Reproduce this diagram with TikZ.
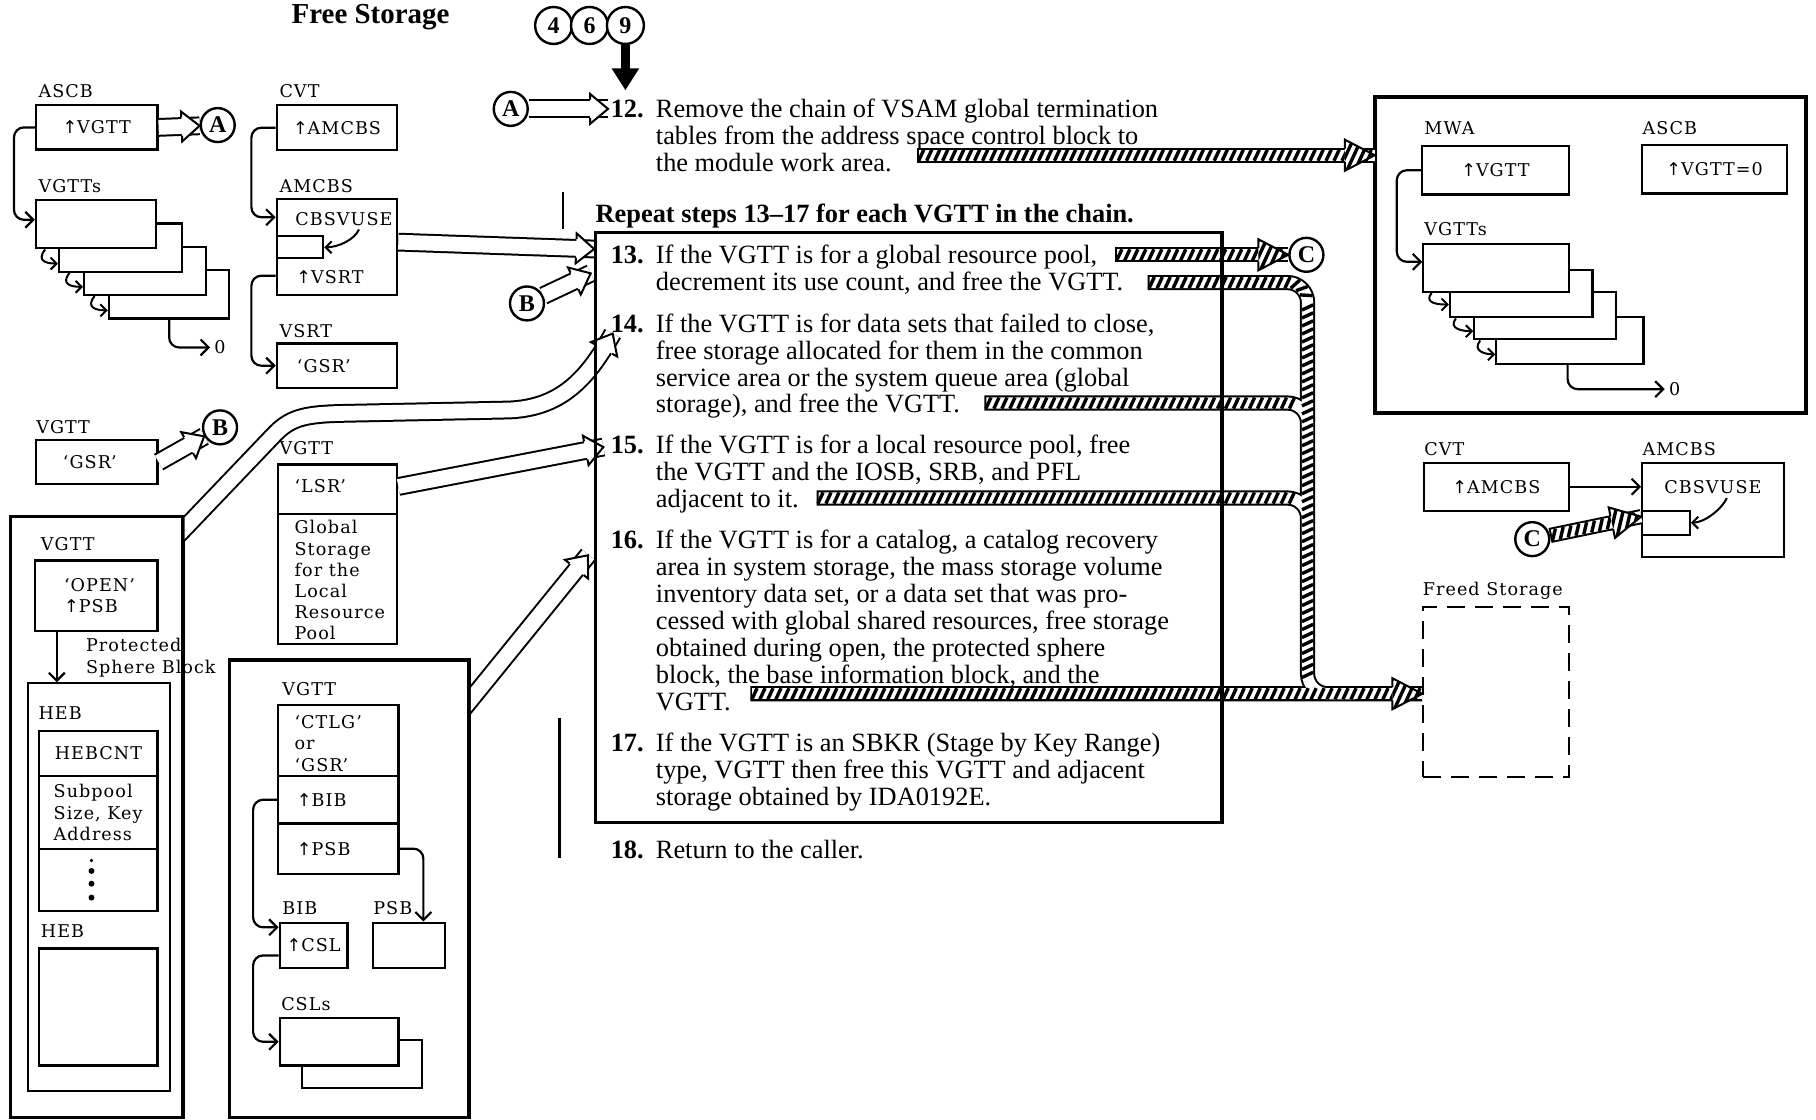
\documentclass[tikz,border=0pt]{standalone}
\usepackage{fontspec}
\setmainfont{Liberation Serif}
\newfontfamily\lblfont[LetterSpace=6]{DejaVu Serif}
\newfontfamily\arrfont{DejaVu Sans}
\usetikzlibrary{arrows.meta,positioning,calc,fit,decorations.markings}

\newcommand{\ptrup}{{\arrfont ↑}}
% heads drawn in the local frame of the path end
\newcommand{\hollowhead}{%
  \fill[white] (-9pt,7.5pt) -- (0pt,0pt) -- (-9pt,-7.5pt) -- cycle;
  \draw[line width=1pt, line join=miter] (-9pt,4.6pt) -- (-9pt,7.5pt) -- (0pt,0pt) -- (-9pt,-7.5pt) -- (-9pt,-4.6pt);}
\newcommand{\hatchhead}{%
  \fill[white] (-15pt,7.8pt) -- (0pt,0pt) -- (-15pt,-7.8pt) -- cycle;
  \begin{scope}
    \clip (-15pt,7.8pt) -- (0pt,0pt) -- (-15pt,-7.8pt) -- cycle;
    \foreach \k in {0,...,7}
      \draw[line width=1.7pt] (-22pt+\k*4pt,-7.8pt) -- ++(7.2pt,15.6pt);
  \end{scope}
  \draw[line width=1pt, line join=miter] (-15pt,3.3pt) -- (-15pt,7.8pt) -- (0pt,0pt) -- (-15pt,-7.8pt) -- (-15pt,-3.3pt);}
\newcommand{\hollow}[1]{%
  \draw[hollowline] #1;
  \path[decorate, decoration={markings, mark=at position 1 with {\hollowhead}}] #1;}
\newcommand{\hatcharrow}[2]{%
  \draw[hatchout] #1;
  \draw[hatchin] #1;
  \path[stripes=#2] #1;
  \path[decorate, decoration={markings, mark=at position 1 with {\hatchhead}}] #1;}

\begin{document}
\begin{tikzpicture}[
  x=0.58pt, y=-0.58pt,
  box/.style={draw, line width=1.1pt, inner sep=0pt, fill=white},
  frame/.style={draw, line width=1.7pt, inner sep=0pt},
  lbl/.style={inner sep=0pt, align=left, font=\lblfont\fontsize{8.8}{10.6}\selectfont},
  circ/.style={draw, circle, line width=1.2pt, fill=white, inner sep=0pt, minimum size=17pt, font=\bfseries\fontsize{12}{12}\selectfont},
  ptr/.style={line width=1.1pt, rounded corners=5pt, -{Straight Barb[length=4pt, width=8pt, line width=1.1pt]}},
  hook/.style={line width=1pt, -{Straight Barb[length=3pt, width=6pt, line width=1pt]}},
  steptext/.style={inner sep=0pt, anchor=north west, align=left, font=\fontsize{13.2}{13.46}\selectfont},
  stepnum/.style={steptext, font=\bfseries\fontsize{13.2}{13.46}\selectfont},
  hollowline/.style={double, double distance=7.4pt, line width=1pt},
  hatchout/.style={line width=7.6pt, rounded corners=10pt},
  hatchin/.style={white, line width=5.6pt, rounded corners=10pt, shorten <=1pt},
  stripes/.style={decorate, decoration={markings, mark=between positions 2pt and -2pt step 4pt with {\draw[line width=1.7pt] (-1*#1,-2.8pt) -- (#1,2.8pt);}}},
  stripes/.default=1.3pt
]
\useasboundingbox (0,0) rectangle (1568,967);

% title and entry
\node[font=\bfseries\fontsize{14.5}{14.5}\selectfont, inner sep=0pt] (title) at (320,15) {Free Storage};
\node[circ, minimum size=18.5pt] (c4) at (478,22) {4};
\node[circ, minimum size=18.5pt] (c6) at (509,22) {6};
\node[circ, minimum size=18.5pt] (c9) at (540,22) {9};
\coordinate (in12) at (540,78);
\draw[line width=4.6pt, -{Triangle[length=11pt, width=13pt]}] (c9) -- (in12);

% ASCB and VGTT chain
\node[lbl, anchor=west] (lascb) at (33,79) {ASCB};
\node[box, fit={(31,91) (136,129)}] (ascb) {};
\node[lbl] (ascbt) at (ascb) {\ptrup VGTT};
\node[circ] (A1) at (188,108) {A};
\hollow{(ascb.east) -- (A1)}
\node[lbl, anchor=west] (lvgtts) at (33,161) {VGTTs};
\node[box, fit={(94,233) (198,275)}] (v4) {};
\node[box, fit={(72.6,213) (178,254.7)}] (v3) {};
\node[box, fit={(51,193) (157,234.6)}] (v2) {};
\node[box, fit={(31,172.7) (135,214.4)}] (v1) {};
\draw[ptr] (ascb.west) -- ++(-18,0) |- ($(v1.north west)+(0,18)$);
\draw[hook] ($(v1.south west)+(9,0)$) .. controls +(-8,10) and +(-10,0) .. ($(v2.south west)+(0,-8)$);
\draw[hook] ($(v2.south west)+(10,0)$) .. controls +(-8,10) and +(-10,0) .. ($(v3.south west)+(0,-8)$);
\draw[hook] ($(v3.south west)+(10,0)$) .. controls +(-8,10) and +(-10,0) .. ($(v4.south west)+(0,-8)$);
\node[lbl, inner sep=2pt] (z1) at (190,300) {0};
\draw[ptr] ($(v4.south west)+(53,0)$) |- (z1);

% CVT, AMCBS, VSRT
\node[lbl, anchor=west] (lcvt) at (241,79) {CVT};
\node[box, fit={(239,91) (343,129.5)}] (cvt) {};
\node[lbl] (cvtt) at (cvt) {\ptrup AMCBS};
\node[lbl, anchor=west] (lamc) at (241,161) {AMCBS};
\node[box, fit={(239,172) (343,255)}] (amc) {};
\node[lbl] (cbsv) at (297,189) {CBSVUSE};
\node[box, fit={(239,204) (279,223)}] (cbs) {};
\node[lbl] (vsrtp) at (285,239) {\ptrup VSRT};
\draw[hook] ($(cbsv.south)+(13,3)$) .. controls +(-4,9) and +(12,0) .. (cbs.east);
\node[lbl, anchor=west] (lvsrt) at (241,286) {VSRT};
\node[box, fit={(239,296.5) (343,335)}] (vsrt) {};
\node[lbl, anchor=west] (vsrtt) at (256,316) {‘GSR’};
\draw[ptr] (cvt.west) -- ++(-21,0) |- ($(amc.north west)+(0,16.5)$);
\draw[ptr] ($(amc.north west)+(0,67)$) -- ++(-21,0) |- (vsrt.west);
\coordinate (in13a) at (513,215);
\hollow{($(amc.north east)+(0,38)$) -- (in13a)}

% B connectors
\node[circ] (B1) at (455,262) {B};
\coordinate (in13b) at (510,236);
\hollow{(B1) -- (in13b)}
\node[lbl, anchor=west] (lvgttb) at (31,369) {VGTT};
\node[box, fit={(31,380) (136,418)}] (gsr) {};
\node[lbl, anchor=west] (gsrt) at (54,399) {‘GSR’};
\node[circ] (B2) at (190,369) {B};
\hollow{(gsr.east) -- (B2)}
\node[circ] (A2) at (441,94) {A};
\coordinate (in12a) at (525,94);
\hollow{(A2) -- (in12a)}

% OPEN VGTT with its HEBs
\node[frame, fit={(9,446) (158,965)}] (opbox) {};
\node[lbl, anchor=west] (lvgtto) at (35,470) {VGTT};
\node[box, fit={(30,484) (136,545)}] (open) {};
\node[lbl, anchor=west] (opent) at (55,514) {‘OPEN’\\\ptrup PSB};
\node[lbl, anchor=north west] (lpsb) at (74,551) {Protected\\Sphere Block};
\node[box, fit={(24,590) (147,942)}] (hebo) {};
\draw[ptr] ($(open.south west)+(20,0)$) -- ($(hebo.north west)+(26,0)$);
\node[lbl, anchor=west] (lheb1) at (33,616) {HEB};
\node[box, fit={(34,631) (136,670)}] (hebcnt) {};
\node[lbl] (hebcntt) at (hebcnt) {HEBCNT};
\node[box, fit={(34,670) (136,733)}] (subp) {};
\node[lbl, anchor=west] (subpt) at (46,701.5) {Subpool\\Size, Key\\Address};
\node[box, fit={(34,733) (136,786.5)}] (dots) {};
\fill (79,743) circle (0.9pt);
\foreach \d in {752,763,775} \fill (79,\d) circle (1.5pt);
\node[lbl, anchor=west] (lheb2) at (35,804) {HEB};
\node[box, fit={(34,819) (136,920)}] (heb2) {};
\begin{scope}
  \clip (159.5,0) rectangle (1568,967);
  \coordinate (o14) at (150,466);
  \coordinate (in14) at (529,288);
  \hollow{(o14) -- (236,376) .. controls (250,361) and (262,358) .. (292,357) -- (440,354) .. controls (482,352) and (506,330) .. (in14)}
\end{scope}

% LSR VGTT
\node[lbl, anchor=west] (lvgttl) at (241,387) {VGTT};
\node[box, fit={(240,401) (343,444)}] (lsr) {};
\node[lbl, anchor=west] (lsrn) at (254,420) {‘LSR’};
\node[box, fit={(240,444) (343,556)}] (lsrp) {};
\node[lbl, anchor=west] (lsrt) at (254,501) {Global\\Storage\\for the\\Local\\Resource\\Pool};
\coordinate (in15) at (521,386);
\hollow{($(lsr.north east)+(0,20)$) -- (in15)}

% CTLG or GSR VGTT
\node[frame, fit={(198,570) (405,965)}] (ctbox) {};
\node[lbl, anchor=west] (lvgttc) at (243.5,595) {VGTT};
\node[box, fit={(240,609) (344,670)}] (ctlg) {};
\node[lbl, anchor=west] (ctlgt) at (254,642) {‘CTLG’\\or\\‘GSR’};
\node[box, fit={(240,670) (344,711)}] (bibp) {};
\node[lbl, anchor=west] (bibpt) at (256,690.5) {\ptrup BIB};
\node[box, fit={(240,711) (344,754.5)}] (psbp) {};
\node[lbl, anchor=west] (psbpt) at (256,733) {\ptrup PSB};
\node[lbl, anchor=west] (lbib) at (243.5,784) {BIB};
\node[box, fit={(241.5,796.6) (300,836)}] (bib) {};
\node[lbl] (bibt) at (bib) {\ptrup CSL};
\node[lbl, anchor=west] (lpsb2) at (322,784) {PSB};
\node[box, fit={(322,796.6) (384,836)}] (psb) {};
\node[lbl, anchor=west] (lcsl) at (242.5,867) {CSLs};
\node[box, fit={(261,898) (364.6,939.5)}] (csl2) {};
\node[box, fit={(241.5,879) (344,920)}] (csl1) {};
\draw[ptr] (bibp.west) -- ++(-20.5,0) |- ($(bib.north west)+(0,5)$);
\draw[ptr] (psbp.east) -| ($(psb.north east)+(-19.4,0)$);
\draw[ptr] ($(bib.south west)+(0,-12)$) -- ++(-22,0) |- (csl1.west);
\begin{scope}
  \clip (406.5,0) rectangle (1568,967);
  \coordinate (o16) at (396,617);
  \coordinate (in16) at (508,479);
  \hollow{(o16) -- (in16)}
\end{scope}

% steps
\node[stepnum] (n12) at (527,84.8) {\strut 12.};
\node[steptext] (t12) at (566,84.8) {\strut Remove the chain of VSAM global termination\\tables from the address space control block to\\the module work area.};
\node[stepnum] (rep) at (514,175.3) {\strut Repeat steps 13–17 for each VGTT in the chain.};
\node[stepnum] (n13) at (527,211.3) {\strut 13.};
\node[steptext] (t13) at (566,211.3) {\strut If the VGTT is for a global resource pool,\\decrement its use count, and free the VGTT.};
\node[stepnum] (n14) at (527,270.3) {\strut 14.};
\node[steptext] (t14) at (566,270.3) {\strut If the VGTT is for data sets that failed to close,\\free storage allocated for them in the common\\service area or the system queue area (global\\storage), and free the VGTT.};
\node[stepnum] (n15) at (527,375.3) {\strut 15.};
\node[steptext] (t15) at (566,375.3) {\strut If the VGTT is for a local resource pool, free\\the VGTT and the IOSB, SRB, and PFL\\adjacent to it.};
\node[stepnum] (n16) at (527,457.3) {\strut 16.};
\node[steptext] (t16) at (566,457.3) {\strut If the VGTT is for a catalog, a catalog recovery\\area in system storage, the mass storage volume\\inventory data set, or a data set that was pro-\\cessed with global shared resources, free storage\\obtained during open, the protected sphere\\block, the base information block, and the\\VGTT.};
\node[stepnum] (n17) at (527,632.3) {\strut 17.};
\node[steptext] (t17) at (566,632.3) {\strut If the VGTT is an SBKR (Stage by Key Range)\\type, VGTT then free this VGTT and adjacent\\storage obtained by IDA0192E.};
\node[stepnum] (n18) at (527,724.3) {\strut 18.};
\node[steptext] (t18) at (566,724.3) {\strut Return to the caller.};
\draw[line width=1.2pt] (486,166) -- (486,198);
\draw[line width=1.2pt] (483,620) -- (483,741);

% MWA after step 12
\node[frame, line width=2pt, fit={(1187,84) (1559,357)}] (mwa) {};
\node[lbl, anchor=west] (lmwa) at (1229.6,111) {MWA};
\node[box, fit={(1228,126) (1354.5,168)}] (mwab) {};
\node[lbl] (mwabt) at (mwab) {\ptrup VGTT};
\node[lbl, anchor=west] (lascb2) at (1418,111) {ASCB};
\node[box, fit={(1418,125) (1543,167)}] (ascb2) {};
\node[lbl] (ascb2t) at (ascb2) {\ptrup VGTT=0};
\node[lbl, anchor=west] (lvgtts2) at (1229.6,198) {VGTTs};
\node[box, fit={(1292,273.5) (1419,314)}] (r4) {};
\node[box, fit={(1273,252) (1395,293)}] (r3) {};
\node[box, fit={(1252,233) (1375,274)}] (r2) {};
\node[box, fit={(1229,211) (1354.5,252)}] (r1) {};
\draw[ptr] (mwab.west) -- ++(-21,0) |- ($(r1.north west)+(0,16)$);
\draw[hook] ($(r1.south west)+(8,0)$) .. controls +(-7,9) and +(-9,0) .. ($(r2.south west)+(0,-12)$);
\draw[hook] ($(r2.south west)+(6,0)$) .. controls +(-7,9) and +(-9,0) .. ($(r3.south west)+(0,-8)$);
\draw[hook] ($(r3.south west)+(6,0)$) .. controls +(-7,9) and +(-9,0) .. ($(r4.south west)+(0,-9)$);
\node[lbl, inner sep=2pt] (z2) at (1446,336) {0};
\draw[ptr] ($(r4.south west)+(62.5,0)$) |- (z2);

% CVT and AMCBS after step 13
\node[lbl, anchor=west] (lcvt2) at (1229.6,388) {CVT};
\node[box, fit={(1229.6,399.5) (1354.5,441)}] (cvt2) {};
\node[lbl] (cvt2t) at (cvt2) {\ptrup AMCBS};
\node[lbl, anchor=west] (lamc2) at (1418,388) {AMCBS};
\node[box, fit={(1418,399.5) (1540.5,481)}] (amc2) {};
\node[lbl] (cbsv2) at (1479,421) {CBSVUSE};
\node[box, fit={(1418,441) (1459,461.6)}] (cbs2) {};
\draw[hook] ($(cbsv2.south)+(12,3)$) .. controls +(-4,9) and +(12,0) .. (cbs2.east);
\draw[ptr] (cvt2.east) -- (cvt2.east -| amc2.west);
\node[circ] (C2) at (1323,465.5) {C};
\coordinate (fcbs) at ($(cbs2.north west)+(0,6)$);
\hatcharrow{(C2) -- (fcbs)}{1.3pt}
\node[lbl] (lfreed) at (1289,510) {Freed Storage};
\node[draw, line width=1.1pt, dash pattern=on 9pt off 5pt, inner sep=0pt, fit={(1229,524) (1354.5,671)}] (freed) {};

% hatched flows
\node[circ] (C1) at (1128,220) {C};
\coordinate (h12) at (792,134);
\coordinate (e12) at (1187,134);
\coordinate (h13a) at (963,220);
\coordinate (h13) at (991,244);
\coordinate (h14) at (850,348);
\coordinate (h15) at (705,430);
\coordinate (h16) at (648,599);
\coordinate (e16) at (1228,599);
\hatcharrow{(h12) -- (e12)}{1.3pt}
\hatcharrow{(h13a) -- (C1)}{1.3pt}
\draw[hatchout] (h13) -- (1129,244) -- (1129,599) -- (1170,599)
  (h14) -- (1129,348) -- (1129,385)
  (h15) -- (1129,430) -- (1129,467)
  (h16) -- (e16);
\draw[hatchin] (h13) -- (1129,244) -- (1129,599) -- (1170,599);
\draw[hatchin] (h14) -- (1129,348) -- (1129,385);
\draw[hatchin] (h15) -- (1129,430) -- (1129,467);
\draw[hatchin] (h16) -- (e16);
\path[stripes, rounded corners=10pt] (h13) -- (1129,244) -- (1129,262);
\path[stripes] (h14) -- (1120,348);
\path[stripes] (h15) -- (1120,430);
\path[stripes=-1.3pt] (1129,262) -- (1129,592);
\path[stripes] (h16) -- (e16);
\path[decorate, decoration={markings, mark=at position 1 with {\hatchhead}}] (h16) -- (e16);

\node[frame, fit={(514,201) (1055,710)}] (stepbox) {};
\end{tikzpicture}
\end{document}
